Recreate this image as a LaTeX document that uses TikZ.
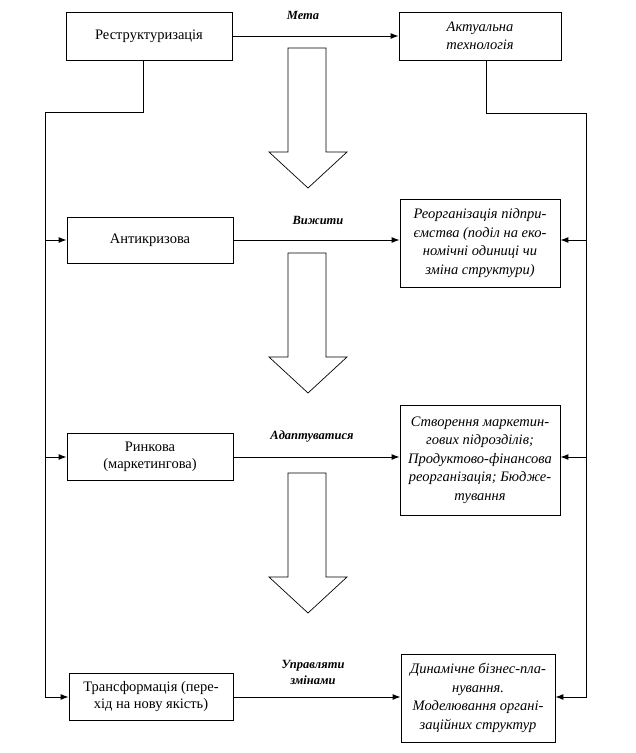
\documentclass[tikz,border=0pt]{standalone}
\usepackage{fontspec}
\setmainfont{Liberation Serif}
\usetikzlibrary{arrows.meta}
\begin{document}
\begin{tikzpicture}[x=1pt,y=-1pt,
  box/.style={draw,line width=0.8pt,align=center,inner sep=1pt,font=\fontsize{14.5}{17}\selectfont},
  ibox/.style={box,font=\fontsize{14.5}{18.5}\selectfont\itshape},
  lbl/.style={align=center,font=\fontsize{12.5}{16}\selectfont\bfseries\itshape},
  conn/.style={line width=1pt},
  arr/.style={conn,-{Latex[length=8pt,width=6pt]}},
  bigarrow/.style={line width=0.7pt}]
\useasboundingbox (0,0) rectangle (636,753);
% left boxes
\node[box,minimum width=166pt,minimum height=48pt] (b1) at (149,36) {Реструктуризація};
\node[box,minimum width=166pt,minimum height=46pt] (b2) at (150,240) {Антикризова};
\node[box,minimum width=166pt,minimum height=47pt] (b3) at (150,457) {Ринкова\\(маркетингова)};
\node[box,minimum width=164pt,minimum height=47pt] (b4) at (151,697) {Трансформація (пере-\\хід на нову якість)};
% right boxes
\node[ibox,minimum width=162pt,minimum height=48pt] (r1) at (480,36) {Актуальна\\технологія};
\node[ibox,minimum width=160pt,minimum height=88pt] (r2) at (480,243) {Реорганізація підпри-\\ємства (поділ на еко-\\номічні одиниці чи\\зміна структури)};
\node[ibox,minimum width=160pt,minimum height=110pt] (r3) at (480,460) {Створення маркетин-\\гових підрозділів;\\Продуктово-фінансова\\реорганізація; Бюдже-\\тування};
\node[ibox,minimum width=154pt,minimum height=88pt] (r4) at (478,698) {Динамічне бізнес-пла-\\нування.\\Моделювання органі-\\заційних структур};
% labels
\node[lbl] (l1) at (303,15) {Мета};
\node[lbl] (l2) at (318,220) {Вижити};
\node[lbl] (l3) at (312,437) {Адаптуватися};
\node[lbl] (l4) at (313,672) {Управляти\\змінами};
% horizontal arrows
\draw[arr] (b1.east) -- (b1.east -| r1.west);
\draw[arr] (b2.east) -- (b2.east -| r2.west);
\draw[arr] (b3.east) -- (b3.east -| r3.west);
\draw[arr] (b4.east) -- (b4.east -| r4.west);
% left feedback line
\coordinate (lt) at (45,112);
\draw[arr] ([xshift=-6pt]b1.south) |- (lt) |- (b4.west);
\draw[arr] (lt |- b2.west) -- (b2.west);
\draw[arr] (lt |- b3.west) -- (b3.west);
% right feedback line
\coordinate (rt) at (586,113);
\draw[arr] ([xshift=6pt]r1.south) |- (rt) |- (r4.east |- b4.east);
\draw[arr] (rt |- b2.east) -- (r2.east |- b2.east);
\draw[arr] (rt |- b3.east) -- (r3.east |- b3.east);
% big hollow arrows
\foreach \y in {48,253,473}{
  \draw[bigarrow] (288,\y) -- (326,\y) -- (326,\y+104) -- (347,\y+104) -- (308,\y+140) -- (269,\y+104) -- (288,\y+104) -- cycle;
}
\end{tikzpicture}
\end{document}
